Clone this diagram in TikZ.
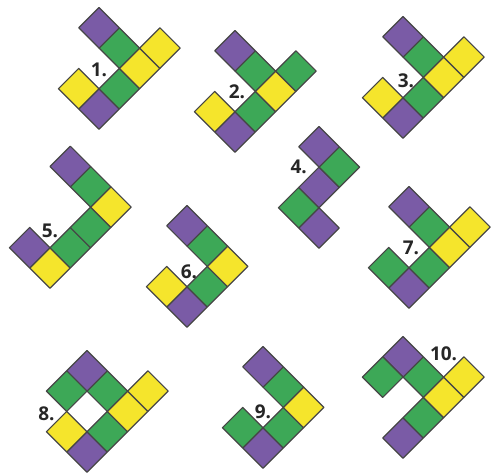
\documentclass[tikz,border=0pt]{standalone}
\usepackage{fontspec}
\setmainfont{Open Sans}
\definecolor{mgpurple}{RGB}{122, 91, 166}
\definecolor{mggreen}{RGB}{61, 168, 87}
\definecolor{mgyellow}{RGB}{245, 229, 44}
\definecolor{mgline}{RGB}{70, 70, 70}
\tikzset{
  cell/.style={draw=mgline, line width=0.6pt, line join=round},
  diag/.style={x={(10.15pt,10.15pt)}, y={(-10.15pt,10.15pt)}},
  lbl/.style={font=\fontsize{9.5}{11}\selectfont\bfseries, text=black!85, inner sep=0pt},
}
\newcommand{\tiles}[1]{%
  \foreach \i/\j/\c in {#1}
    \draw[cell, fill=\c] (\i-.5,\j-.5) -- ++(1,0) -- ++(0,1) -- ++(-1,0) -- cycle;}

\begin{document}
\begin{tikzpicture}[x=0.5pt, y=-0.5pt]
  \useasboundingbox (0,0) rectangle (493,476);
  % 1.
  \begin{scope}[shift={(99,109)}, diag]
    \tiles{0/0/mgpurple, 0/1/mgyellow, 1/0/mggreen, 2/0/mgyellow, 3/0/mgyellow, 2/1/mggreen, 2/2/mgpurple}
    \node[lbl, yshift=-0.8pt] (l1) at (1,1) {1.};
  \end{scope}
  % 2.
  \begin{scope}[shift={(235,132)}, diag]
    \tiles{0/0/mgpurple, 0/1/mgyellow, 1/0/mggreen, 2/0/mgyellow, 3/0/mggreen, 2/1/mggreen, 2/2/mgpurple}
    \node[lbl, xshift=1pt] (l2) at (1,1) {2.};
  \end{scope}
  % 3.
  \begin{scope}[shift={(403,118)}, diag]
    \tiles{0/0/mgpurple, 0/1/mgyellow, 1/0/mggreen, 2/0/mgyellow, 3/0/mgyellow, 2/1/mggreen, 2/2/mgpurple}
    \node[lbl, xshift=1.5pt, yshift=-1.5pt] (l3) at (1,1) {3.};
  \end{scope}
  % 4.
  \begin{scope}[shift={(319,228)}, diag]
    \tiles{0/0/mgpurple, 0/1/mggreen, 1/1/mgpurple, 2/1/mggreen, 2/2/mgpurple}
    \node[lbl] (l4) at (1,2) {4.};
  \end{scope}
  % 5.
  \begin{scope}[shift={(50,268)}, diag]
    \tiles{0/0/mgyellow, 0/1/mgpurple, 1/0/mggreen, 2/0/mggreen, 3/0/mgyellow, 3/1/mggreen, 3/2/mgpurple}
    \node[lbl, yshift=-1.5pt] (l5) at (1,1) {5.};
  \end{scope}
  % 6.
  \begin{scope}[shift={(187,307)}, diag]
    \tiles{0/0/mgpurple, 0/1/mgyellow, 1/0/mggreen, 2/0/mgyellow, 2/1/mggreen, 2/2/mgpurple}
    \node[lbl, xshift=1pt, yshift=-2.5pt] (l6) at (1,1) {6.};
  \end{scope}
  % 7.
  \begin{scope}[shift={(409,288)}, diag]
    \tiles{0/0/mgpurple, 0/1/mggreen, 1/0/mggreen, 2/0/mgyellow, 3/0/mgyellow, 2/1/mggreen, 2/2/mgpurple}
    \node[lbl, xshift=1pt] (l7) at (1,1) {7.};
  \end{scope}
  % 8.
  \begin{scope}[shift={(87,452)}, diag]
    \tiles{0/0/mgpurple, 0/1/mgyellow, 1/0/mggreen, 2/0/mgyellow, 3/0/mgyellow, 2/1/mggreen, 2/2/mgpurple, 1/2/mggreen}
    \node[lbl, yshift=-1pt] (l8) at (0,2) {8.};
  \end{scope}
  % 9.
  \begin{scope}[shift={(263,448)}, diag]
    \tiles{0/0/mgpurple, 0/1/mggreen, 1/0/mggreen, 2/0/mgyellow, 2/1/mggreen, 2/2/mgpurple}
    \node[lbl, yshift=-2pt] (l9) at (1,1) {9.};
  \end{scope}
  % 10.
  \begin{scope}[shift={(403,438)}, diag]
    \tiles{0/0/mgpurple, 1/0/mggreen, 2/0/mgyellow, 3/0/mgyellow, 2/1/mggreen, 2/2/mgpurple, 1/2/mggreen}
    \node[lbl, yshift=1.5pt] (l10) at (3,1) {10.};
  \end{scope}
\end{tikzpicture}
\end{document}
